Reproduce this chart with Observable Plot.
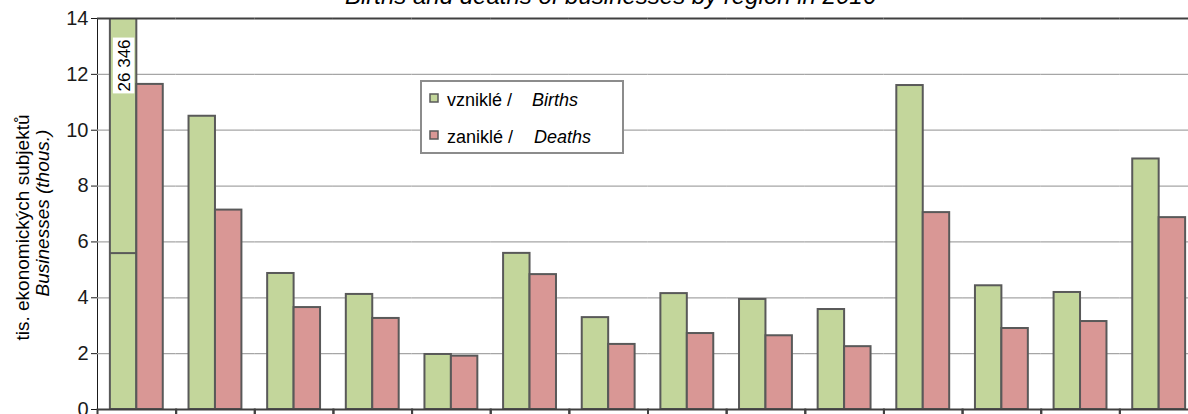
<!DOCTYPE html>
<html>
<head>
<meta charset="utf-8">
<script src="https://cdn.jsdelivr.net/npm/d3@7"></script>
<script src="https://cdn.jsdelivr.net/npm/@observablehq/plot@0.6"></script>
<style>
  html, body { margin: 0; padding: 0; background: white; overflow: hidden; }
  #wrap { position: relative; width: 1198px; height: 414px; overflow: hidden; }
  #chart { position: absolute; left: 0; top: 0; }
  #overlay { position: absolute; left: 0; top: 0; pointer-events: none; }
  #overlay text { font-family: "Liberation Sans", Arial, sans-serif; fill: #000; }
</style>
</head>
<body>
<div id="wrap">
  <div id="chart"></div>
  <svg id="overlay" width="1198" height="414">
    <text x="610.5" y="4" text-anchor="middle" font-size="24" font-style="italic">Births and deaths of businesses by region in 2016</text>
    <text transform="translate(29,227.5) rotate(-90)" text-anchor="middle" font-size="19">tis. ekonomických subjektů</text>
    <text transform="translate(49,213) rotate(-90)" text-anchor="middle" font-size="19" font-style="italic">Businesses (thous.)</text>
    <g id="legend">
      <rect x="421" y="81" width="202" height="72" fill="white" stroke="#8c8c8c" stroke-width="2"></rect>
      <rect x="430" y="94" width="8" height="8" fill="#c3d69b" stroke="#595959" stroke-width="1.5"></rect>
      <text x="447" y="106" font-size="18">vzniklé /</text>
      <text x="532" y="106" font-size="18" font-style="italic">Births</text>
      <rect x="430" y="131" width="8" height="8" fill="#d99795" stroke="#595959" stroke-width="1.5"></rect>
      <text x="447" y="142.5" font-size="18">zaniklé /</text>
      <text x="534" y="142.5" font-size="18" font-style="italic">Deaths</text>
    </g>
  </svg>
</div>
<script>
// Regions (categories)
const regions = ["Hl. m. Praha", "Středočeský", "Jihočeský", "Plzeňský", "Karlovarský", "Ústecký", "Liberecký",
  "Královéhradecký", "Pardubický", "Vysočina", "Jihomoravský", "Olomoucký", "Zlínský", "Moravskoslezský"];
// Series
const series = ["Births", "Deaths"];
const seriesColors = ["#c3d69b", "#d99795"];
// Values in thousands of businesses
const births = [26.346, 10.50, 4.87, 4.12, 1.97, 5.59, 3.29, 4.15, 3.94, 3.58, 11.60, 4.43, 4.19, 8.97];
const deaths = [11.64, 7.14, 3.65, 3.26, 1.91, 4.83, 2.33, 2.72, 2.64, 2.25, 7.05, 2.90, 3.15, 6.87];
// Y tick labels
const yTicks = [0, 2, 4, 6, 8, 10, 12, 14];
const gridTicks = [2, 4, 6, 8, 10, 12];
// Annotation for the out-of-range bar
const outLabel = ["26 346"];
const breakAt = [5.6];

const rows = regions.flatMap((r, i) => [
  {region: r, series: series[0], value: births[i]},
  {region: r, series: series[1], value: deaths[i]}
]);
const annot = [{region: regions[0], series: series[0], label: outLabel[0], at: breakAt[0]}];

const chart = Plot.plot({
  width: 1198,
  height: 419,
  marginTop: 18,
  marginLeft: 97,
  marginRight: 0,
  marginBottom: 10,
  style: {fontFamily: "'Liberation Sans', Arial, sans-serif", fontSize: "20px", color: "#1a1a1a", background: "white", maxWidth: "none"},
  fx: {domain: regions, padding: 0, round: false, axis: null, label: null},
  x: {domain: series, paddingInner: 0, paddingOuter: 0.487, round: false, axis: null},
  y: {domain: [0, 14], ticks: yTicks, tickSize: 6, tickPadding: 3, label: null, line: true},
  color: {domain: series, range: seriesColors},
  marks: [
    Plot.ruleY(gridTicks, {stroke: "#a6a6a6", strokeWidth: 1.3}),
    Plot.barY(rows, {fx: "region", x: "series", y: "value", fill: "series", stroke: "#595959", strokeWidth: 2, clip: true}),
    Plot.tickY(annot, {fx: "region", x: "series", y: "at", stroke: "#595959", strokeWidth: 2}),
    Plot.barY(annot, {fx: "region", x: "series", y1: () => 11.3, y2: () => 13.3, fill: "white", insetLeft: 3, insetRight: 2}),
    Plot.text(annot, {fx: "region", x: "series", y: () => 12.32, text: "label", rotate: -90, fontSize: 17, fill: "#000", dx: 1}),
    Plot.ruleY([14], {stroke: "#404040", strokeWidth: 2}),
    Plot.frame({stroke: "#404040", strokeWidth: 2, insetTop: 391, insetBottom: -8})
  ]
});
document.getElementById("chart").appendChild(chart);
</script>
</body>
</html>
